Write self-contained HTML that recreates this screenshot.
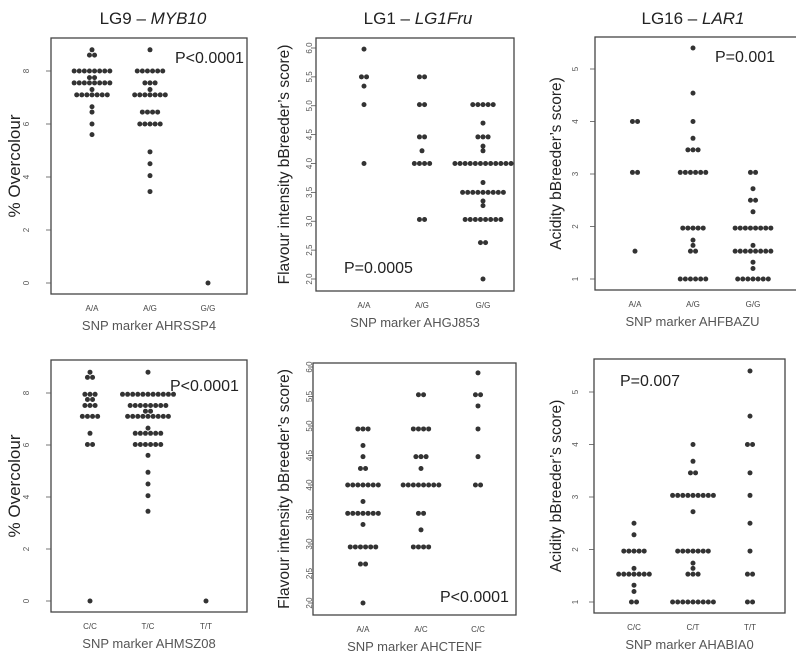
<!DOCTYPE html>
<html><head><meta charset="utf-8">
<style>
html,body{margin:0;padding:0;background:#fff;}
svg{display:block;font-family:"Liberation Sans",sans-serif;}
</style></head>
<body>
<svg id="fig" width="796" height="654" viewBox="0 0 796 654" xmlns="http://www.w3.org/2000/svg"></svg>
<script>
// ---- data (values per genotype; each repeated value = one individual) ----
const p1Cats = ["A/A","A/G","G/G"];
const p1AA = [8.8,8.6,8.6,8,8,8,8,8,8,8,8,7.75,7.75,7.55,7.55,7.55,7.55,7.55,7.55,7.55,7.55,7.3,7.1,7.1,7.1,7.1,7.1,7.1,7.1,6.65,6.45,6,5.6];
const p1AG = [8.8,8,8,8,8,8,8,7.55,7.55,7.55,7.3,7.1,7.1,7.1,7.1,7.1,7.1,7.1,6.45,6.45,6.45,6.45,6,6,6,6,6,4.95,4.5,4.05,3.45];
const p1GG = [0];
const p1Ticks = [0,2,4,6,8];

const p2Cats = ["A/A","A/G","G/G"];
const p2AA = [5.98,5.5,5.5,5.34,5.02,4.0];
const p2AG = [5.5,5.5,5.02,5.02,4.46,4.46,4.22,4,4,4,4,3.03,3.03];
const p2GG = [5.02,5.02,5.02,5.02,5.02,4.7,4.46,4.46,4.46,4.3,4.22,4,4,4,4,4,4,4,4,4,4,4,4,3.67,3.5,3.5,3.5,3.5,3.5,3.5,3.5,3.5,3.5,3.35,3.27,3.03,3.03,3.03,3.03,3.03,3.03,3.03,3.03,2.63,2.63,2.0];
const p2Ticks = [2.0,2.5,3.0,3.5,4.0,4.5,5.0,5.5,6.0];

const p3Cats = ["A/A","A/G","G/G"];
const p3AA = [4,4,3.03,3.03,1.53];
const p3AG = [5.4,4.54,4,3.68,3.46,3.46,3.46,3.03,3.03,3.03,3.03,3.03,3.03,1.97,1.97,1.97,1.97,1.97,1.74,1.64,1.53,1.53,1,1,1,1,1,1];
const p3GG = [3.03,3.03,2.72,2.5,2.5,2.28,1.97,1.97,1.97,1.97,1.97,1.97,1.97,1.97,1.64,1.53,1.53,1.53,1.53,1.53,1.53,1.53,1.53,1.32,1.2,1,1,1,1,1,1,1];
const p3Ticks = [1,2,3,4,5];

const p4Cats = ["C/C","T/C","T/T"];
const p4CC = [8.8,8.6,8.6,7.95,7.95,7.95,7.75,7.75,7.52,7.52,7.52,7.1,7.1,7.1,7.1,6.45,6.02,6.02,0];
const p4TC = [8.8,7.95,7.95,7.95,7.95,7.95,7.95,7.95,7.95,7.95,7.95,7.95,7.52,7.52,7.52,7.52,7.52,7.52,7.52,7.52,7.3,7.3,7.1,7.1,7.1,7.1,7.1,7.1,7.1,7.1,7.1,6.65,6.45,6.45,6.45,6.45,6.45,6.45,6.02,6.02,6.02,6.02,6.02,6.02,5.6,4.95,4.5,4.05,3.45];
const p4TT = [0];
const p4Ticks = [0,2,4,6,8];

const p5Cats = ["A/A","A/C","C/C"];
const p5AA = [4.95,4.95,4.95,4.67,4.48,4.28,4.28,4,4,4,4,4,4,4,3.72,3.52,3.52,3.52,3.52,3.52,3.52,3.52,3.33,2.95,2.95,2.95,2.95,2.95,2.95,2.66,2.66,2.0];
const p5AC = [5.53,5.53,4.95,4.95,4.95,4.95,4.48,4.48,4.48,4.28,4,4,4,4,4,4,4,4,3.52,3.52,3.24,2.95,2.95,2.95,2.95];
const p5CC = [5.9,5.53,5.53,5.34,4.95,4.48,4,4];
const p5Ticks = [2.0,2.5,3.0,3.5,4.0,4.5,5.0,5.5,6.0];

const p6Cats = ["C/C","C/T","T/T"];
const p6CC = [2.5,2.28,1.97,1.97,1.97,1.97,1.97,1.64,1.53,1.53,1.53,1.53,1.53,1.53,1.53,1.32,1.2,1,1];
const p6CT = [4,3.68,3.46,3.46,3.03,3.03,3.03,3.03,3.03,3.03,3.03,3.03,3.03,2.72,1.97,1.97,1.97,1.97,1.97,1.97,1.97,1.74,1.64,1.53,1.53,1.53,1,1,1,1,1,1,1,1,1];
const p6TT = [5.4,4.54,4,4,3.46,3.03,2.5,1.97,1.53,1.53,1,1];
const p6Ticks = [1,2,3,4,5];

// ---- layout ----
const panels = [
 {id:"overcolour-ahrssp4",title:"LG9 – ",ital:"MYB10",tx:153,ty:18,L:51,T:38,R:247,B:294,y0:0,y0px:283,y1:8,y1px:71,cx:[92,150,208],cats:p1Cats,groups:[p1AA,p1AG,p1GG],ticks:p1Ticks,dec:0,ytitle:"% Overcolour",ytx:14,xtitle:"SNP marker AHRSSP4",p:"P<0.0001",px:175,py:63,tickX:29},
 {id:"flavour-ahgj853",title:"LG1 – ",ital:"LG1Fru",tx:418,ty:18,L:316,T:38,R:514,B:291,y0:2,y0px:279,y1:6,y1px:48,cx:[364,422,483],cats:p2Cats,groups:[p2AA,p2AG,p2GG],ticks:p2Ticks,dec:1,ytitle:"Flavour intensity bBreeder’s score)",ytx:283,xtitle:"SNP marker AHGJ853",p:"P=0.0005",px:344,py:273,tickX:312},
 {id:"acidity-ahfbazu",title:"LG16 – ",ital:"LAR1",tx:693,ty:18,L:595,T:37,R:800,B:290,y0:1,y0px:279,y1:5,y1px:69,cx:[635,693,753],cats:p3Cats,groups:[p3AA,p3AG,p3GG],ticks:p3Ticks,dec:0,ytitle:"Acidity bBreeder’s score)",ytx:555,xtitle:"SNP marker AHFBAZU",p:"P=0.001",px:715,py:62,tickX:578},
 {id:"overcolour-ahmsz08",L:51,T:360,R:247,B:612,y0:0,y0px:601,y1:8,y1px:393,cx:[90,148,206],cats:p4Cats,groups:[p4CC,p4TC,p4TT],ticks:p4Ticks,dec:0,ytitle:"% Overcolour",ytx:14,xtitle:"SNP marker AHMSZ08",p:"P<0.0001",px:170,py:391,tickX:29},
 {id:"flavour-ahctenf",L:313,T:363,R:516,B:615,y0:2,y0px:603,y1:6,y1px:367,cx:[363,421,478],cats:p5Cats,groups:[p5AA,p5AC,p5CC],ticks:p5Ticks,dec:1,ytitle:"Flavour intensity bBreeder’s score)",ytx:283,xtitle:"SNP marker AHCTENF",p:"P<0.0001",px:440,py:602,tickX:312},
 {id:"acidity-ahabia0",L:594,T:359,R:785,B:613,y0:1,y0px:602,y1:5,y1px:392,cx:[634,693,750],cats:p6Cats,groups:[p6CC,p6CT,p6TT],ticks:p6Ticks,dec:0,ytitle:"Acidity bBreeder’s score)",ytx:555,xtitle:"SNP marker AHABIA0",p:"P=0.007",px:620,py:386,tickX:578}
];

const NS="http://www.w3.org/2000/svg";
const svg=document.getElementById('fig');
function mk(tag,attrs,parent,text){const e=document.createElementNS(NS,tag);for(const k in attrs)e.setAttribute(k,attrs[k]);if(text!==undefined)e.textContent=text;(parent||svg).appendChild(e);return e;}

panels.forEach(P=>{
  const g=mk('g',{});
  
  
  const yScale=v=>P.y0px+(v-P.y0)*(P.y1px-P.y0px)/(P.y1-P.y0);
  if(P.title){
    const t=mk('text',{x:P.tx,y:P.ty+6,'text-anchor':'middle','font-size':17,fill:'#222'},g);
    
    
    t.appendChild(document.createTextNode(P.title));
    mk('tspan',{'font-style':'italic'},t,P.ital);
  }
  const box=mk('rect',{x:P.L,y:P.T,width:P.R-P.L,height:P.B-P.T,fill:'none',stroke:'#444','stroke-width':1.3},g);
  
  
  P.ticks.forEach(v=>{
    const y=yScale(v);
    const tl=mk('line',{x1:P.L-5,x2:P.L,y1:y,y2:y,stroke:'#555','stroke-width':0.8},g);
    
    
    const tx=mk('text',{x:0,y:0,transform:`translate(${P.tickX},${y}) rotate(-90)`,'text-anchor':'middle','font-size':8,fill:'#555'},g,v.toFixed(P.dec));
    
    
  });
  const yt=mk('text',{x:0,y:0,transform:`translate(${P.ytx+6},${(P.T+P.B)/2}) rotate(-90)`,'text-anchor':'middle','font-size':P.ytitle.length>20?15.5:17,fill:'#222'},g,P.ytitle);
  
  
  const step=5.1;
  P.cats.forEach((c,i)=>{
    const x=P.cx[i];
    const cl=mk('text',{x:x,y:P.B+17,'text-anchor':'middle','font-size':8,fill:'#444'},g,c);
    
    
    const counts={};
    P.groups[i].forEach(v=>{counts[v]=(counts[v]||0)+1;});
    Object.keys(counts).forEach(k=>{
      const v=parseFloat(k),n=counts[k];
      for(let j=0;j<n;j++){
        const dx=(j-(n-1)/2)*step;
        const d=mk('circle',{cx:x+dx,cy:yScale(v),r:2.5,fill:'#333'},g);
        
        
      }
    });
  });
  const xt=mk('text',{x:(P.L+Math.min(P.R,790))/2,y:P.B+36,'text-anchor':'middle','font-size':13,fill:'#555'},g,P.xtitle);
  
  
  const pt=mk('text',{x:P.px,y:P.py,'font-size':16,fill:'#222'},g,P.p);
  
  
});
</script>
</body></html>
